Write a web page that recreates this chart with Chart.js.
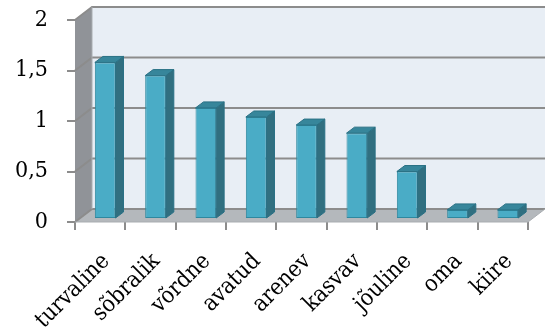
<!DOCTYPE html>
<html>
<head>
<meta charset="utf-8">
<script src="https://cdn.jsdelivr.net/npm/chart.js@4/dist/chart.umd.min.js"></script>
<style>
  html, body { margin: 0; padding: 0; background: #fff; }
  #chart { display: block; }
</style>
</head>
<body>
<canvas id="chart" width="545" height="336"></canvas>
<script>
// data
const labels = ['turvaline', 'sõbralik', 'võrdne', 'avatud', 'arenev', 'kasvav', 'jõuline', 'oma', 'kiire'];
const values = [1.55, 1.42, 1.10, 1.01, 0.93, 0.85, 0.47, 0.09, 0.09];
const yTicks = [0, 0.5, 1, 1.5, 2];

const FONT = "'DejaVu Serif Condensed', 'DejaVu Serif', serif";

// 3d look
const DEPTH_X = 17, DEPTH_Y = -13;      // wall depth
const BAR_DX = 8, BAR_DY = -6;          // bar depth
const SHIFT_X = 5, SHIFT_Y = -3;        // where the bars stand on the floor

const walls = {
  id: 'walls',
  beforeDatasetsDraw(chart) {
    const ctx = chart.ctx;
    const a = chart.chartArea;
    const y = chart.scales.y;
    ctx.save();
    // side wall
    ctx.fillStyle = '#909398';
    ctx.beginPath();
    ctx.moveTo(a.left, a.top);
    ctx.lineTo(a.left + DEPTH_X, a.top + DEPTH_Y);
    ctx.lineTo(a.left + DEPTH_X, a.bottom + DEPTH_Y);
    ctx.lineTo(a.left, a.bottom);
    ctx.closePath();
    ctx.fill();
    // back wall
    ctx.fillStyle = '#e8eef5';
    ctx.fillRect(a.left + DEPTH_X, a.top + DEPTH_Y, a.right - a.left, a.bottom - a.top);
    // floor
    ctx.fillStyle = '#b4b8bc';
    ctx.beginPath();
    ctx.moveTo(a.left, a.bottom);
    ctx.lineTo(a.left + DEPTH_X, a.bottom + DEPTH_Y);
    ctx.lineTo(a.right + DEPTH_X, a.bottom + DEPTH_Y);
    ctx.lineTo(a.right, a.bottom);
    ctx.closePath();
    ctx.fill();
    // grid lines on walls
    ctx.strokeStyle = '#8c8c8c';
    ctx.lineWidth = 2;
    yTicks.forEach(function (t) {
      const py = y.getPixelForValue(t);
      ctx.beginPath();
      ctx.moveTo(a.left, py);
      ctx.lineTo(a.left + DEPTH_X, py + DEPTH_Y);
      ctx.lineTo(a.right + DEPTH_X, py + DEPTH_Y);
      ctx.stroke();
    });
    ctx.strokeStyle = '#a9adb1';
    ctx.lineWidth = 1;
    ctx.beginPath();
    ctx.moveTo(a.left + DEPTH_X, a.top + DEPTH_Y);
    ctx.lineTo(a.left + DEPTH_X, a.bottom + DEPTH_Y);
    ctx.stroke();
    ctx.beginPath();
    ctx.moveTo(a.left, a.bottom);
    ctx.lineTo(a.right, a.bottom);
    ctx.lineTo(a.right + DEPTH_X, a.bottom + DEPTH_Y);
    ctx.stroke();
    ctx.restore();

    ctx.save();
    ctx.translate(SHIFT_X, SHIFT_Y);
  },
  afterDatasetsDraw(chart) {
    const ctx = chart.ctx;
    const meta = chart.getDatasetMeta(0);
    meta.data.forEach(function (bar) {
      const p = bar.getProps(['x', 'y', 'base', 'width'], true);
      const l = p.x - p.width / 2, r = p.x + p.width / 2;
      ctx.lineWidth = 1;
      ctx.strokeStyle = '#2a7185';
      // side
      ctx.fillStyle = '#316f80';
      ctx.beginPath();
      ctx.moveTo(r, p.y);
      ctx.lineTo(r + BAR_DX, p.y + BAR_DY);
      ctx.lineTo(r + BAR_DX, p.base + BAR_DY);
      ctx.lineTo(r, p.base);
      ctx.closePath();
      ctx.fill();
      ctx.stroke();
      // top
      ctx.fillStyle = '#37869b';
      ctx.beginPath();
      ctx.moveTo(l, p.y);
      ctx.lineTo(l + BAR_DX, p.y + BAR_DY);
      ctx.lineTo(r + BAR_DX, p.y + BAR_DY);
      ctx.lineTo(r, p.y);
      ctx.closePath();
      ctx.fill();
      ctx.stroke();
    });
    ctx.restore();
  }
};

new Chart(document.getElementById('chart'), {
  type: 'bar',
  data: {
    labels: labels,
    datasets: [{
      data: values,
      backgroundColor: '#4aacc6',
      borderColor: '#2f889f',
      borderWidth: 1,
      borderSkipped: false,
      categoryPercentage: 1,
      barPercentage: 0.41,
      clip: false
    }]
  },
  options: {
    responsive: false,
    animation: false,
    devicePixelRatio: 1,
    layout: { padding: { top: 20, right: 17, left: 0, bottom: 0 } },
    plugins: { legend: { display: false }, tooltip: { enabled: false } },
    scales: {
      x: {
        offset: true,
        border: { display: false },
        grid: { drawOnChartArea: false, drawTicks: true, tickLength: 8, color: '#8c8c8c', lineWidth: 2 },
        ticks: {
          color: '#000',
          font: { family: FONT, size: 23 },
          minRotation: 45, maxRotation: 45, padding: 18, labelOffset: 6, autoSkip: false
        },
        afterFit: function (s) { s.height = 114; s.paddingLeft = 0; s.paddingRight = 0; }
      },
      y: {
        min: 0, max: 2,
        border: { display: false },
        grid: { drawOnChartArea: false, drawTicks: true, tickLength: 8, color: '#8c8c8c', lineWidth: 2 },
        ticks: {
          stepSize: 0.5, color: '#000', padding: 19,
          font: { family: FONT, size: 23 },
          callback: function (v) { return String(v).replace('.', ','); }
        },
        afterFit: function (s) { s.width = 75; s.paddingTop = 0; s.paddingBottom = 0; }
      }
    }
  },
  plugins: [walls]
});
</script>
</body>
</html>
